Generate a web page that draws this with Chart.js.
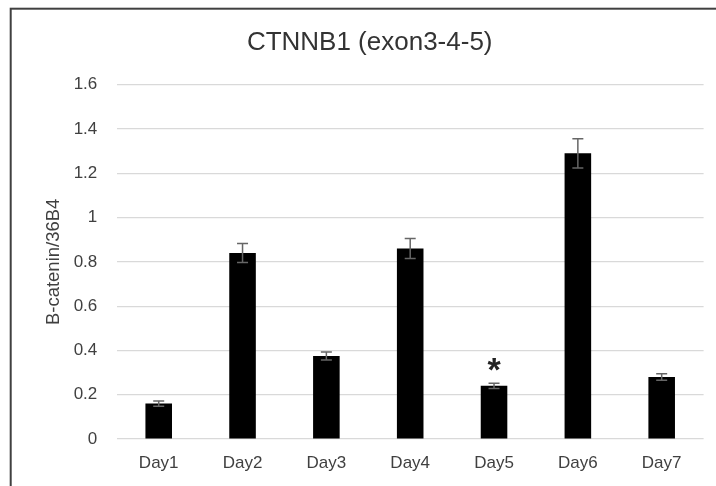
<!DOCTYPE html>
<html>
<head>
<meta charset="utf-8">
<script src="https://cdn.jsdelivr.net/npm/chart.js@4/dist/chart.umd.min.js"></script>
<style>
  html, body { margin: 0; padding: 0; background: #ffffff; }
  #wrap { width: 716px; height: 486px; position: relative; overflow: hidden; }
</style>
</head>
<body>
<div id="wrap"><canvas id="chart" width="716" height="486"></canvas></div>
<script>
// Relative CTNNB1 expression (B-catenin / 36B4) per day
const days = ['Day1', 'Day2', 'Day3', 'Day4', 'Day5', 'Day6', 'Day7'];
const ratio = [0.16, 0.84, 0.375, 0.86, 0.24, 1.29, 0.28];
const errorSize = [0.012, 0.043, 0.018, 0.045, 0.012, 0.066, 0.015];
const significance = ['', '', '', '', '*', '', ''];
const yTicks = [0, 0.2, 0.4, 0.6, 0.8, 1, 1.2, 1.4, 1.6];

const FONT = "'Liberation Sans', Arial, sans-serif";

// Error bars with caps, drawn in data space through the scales
const errorBars = {
  id: 'errorBars',
  afterDatasetsDraw(chart) {
    const { ctx, scales: { x, y } } = chart;
    ctx.save();
    ctx.strokeStyle = '#666666';
    ctx.lineWidth = 1.5;
    ratio.forEach((v, i) => {
      const px = x.getPixelForValue(i);
      const top = y.getPixelForValue(v + errorSize[i]);
      const bot = y.getPixelForValue(v - errorSize[i]);
      const half = 5.5;
      ctx.beginPath();
      ctx.moveTo(px, top); ctx.lineTo(px, bot);
      ctx.moveTo(px - half, top); ctx.lineTo(px + half, top);
      ctx.moveTo(px - half, bot); ctx.lineTo(px + half, bot);
      ctx.stroke();
    });
    ctx.restore();
  }
};

// Significance markers above the error bars
const sigMarks = {
  id: 'sigMarks',
  afterDatasetsDraw(chart) {
    const { ctx, scales: { x, y } } = chart;
    ctx.save();
    ctx.fillStyle = '#222222';
    ctx.font = 'bold 34px ' + FONT;
    ctx.textAlign = 'center';
    ctx.textBaseline = 'alphabetic';
    significance.forEach((m, i) => {
      if (!m) return;
      const px = x.getPixelForValue(i);
      const top = y.getPixelForValue(ratio[i] + errorSize[i]);
      ctx.fillText(m, px, top - 2.5);
    });
    ctx.restore();
  }
};

// Outer chart frame
const frame = {
  id: 'frame',
  afterDraw(chart) {
    const { ctx } = chart;
    ctx.save();
    ctx.strokeStyle = '#404040';
    ctx.lineWidth = 2;
    ctx.strokeRect(10.7, 8.7, 760, 540);
    ctx.restore();
  }
};

new Chart(document.getElementById('chart'), {
  type: 'bar',
  data: {
    labels: days,
    datasets: [{
      data: ratio,
      backgroundColor: '#000000',
      borderWidth: 0,
      barPercentage: 1,
      categoryPercentage: 0.317
    }]
  },
  options: {
    responsive: false,
    animation: false,
    devicePixelRatio: 1,
    layout: { padding: { left: 35.8, right: 12.4, top: 0, bottom: 0 } },
    plugins: {
      legend: { display: false },
      tooltip: { enabled: false },
      title: {
        display: true,
        text: 'CTNNB1 (exon3-4-5)',
        color: '#333333',
        font: { family: FONT, size: 26, weight: 'normal', lineHeight: 1.2 },
        padding: { top: 27.7, bottom: 25.8 }
      }
    },
    scales: {
      x: {
        grid: { display: false, drawTicks: false },
        border: { display: false },
        ticks: {
          color: '#404040',
          padding: 13.8,
          font: { family: FONT, size: 17, lineHeight: 1.2 }
        },
        afterFit(s) { s.height = 47; }
      },
      y: {
        min: 0,
        max: 1.6,
        afterBuildTicks(s) { s.ticks = yTicks.map(v => ({ value: v })); },
        grid: { color: '#d9d9d9', lineWidth: 1.2, drawTicks: false },
        border: { display: false },
        ticks: {
          color: '#404040',
          padding: 19.5,
          font: { family: FONT, size: 17 },
          callback: v => String(v)
        },
        title: {
          display: true,
          text: 'B-catenin/36B4',
          color: '#404040',
          font: { family: FONT, size: 18.5, lineHeight: 1.2 },
          padding: { top: 7, bottom: 0 }
        },
        afterFit(s) { s.width = 81; }
      }
    }
  },
  plugins: [errorBars, sigMarks, frame]
});
</script>
</body>
</html>
